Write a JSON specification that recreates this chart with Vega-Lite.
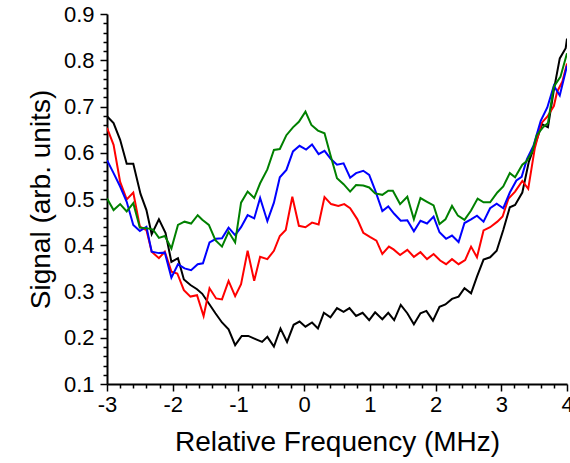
{
"$schema": "https://vega.github.io/schema/vega-lite/v6.json",
"width": 460, "height": 370,
"autosize": {"type": "none"},
"padding": {"left": 107, "top": 14, "right": 3, "bottom": 79},
"background": "white",
"config": {"view": {"stroke": null}, "font": "Liberation Sans"},
"data": {"values": [
{"s":"black","x":-3.00,"y":0.679},{"s":"black","x":-2.90,"y":0.664},{"s":"black","x":-2.80,"y":0.628},{"s":"black","x":-2.70,"y":0.576},{"s":"black","x":-2.60,"y":0.576},{"s":"black","x":-2.49,"y":0.511},{"s":"black","x":-2.40,"y":0.476},{"s":"black","x":-2.32,"y":0.424},{"s":"black","x":-2.21,"y":0.456},{"s":"black","x":-2.11,"y":0.427},{"s":"black","x":-2.02,"y":0.364},{"s":"black","x":-1.92,"y":0.372},{"s":"black","x":-1.83,"y":0.326},{"s":"black","x":-1.73,"y":0.314},{"s":"black","x":-1.63,"y":0.305},{"s":"black","x":-1.55,"y":0.295},{"s":"black","x":-1.45,"y":0.274},{"s":"black","x":-1.35,"y":0.253},{"s":"black","x":-1.25,"y":0.233},{"s":"black","x":-1.15,"y":0.218},{"s":"black","x":-1.05,"y":0.184},{"s":"black","x":-0.95,"y":0.204},{"s":"black","x":-0.85,"y":0.204},{"s":"black","x":-0.74,"y":0.197},{"s":"black","x":-0.64,"y":0.191},{"s":"black","x":-0.56,"y":0.202},{"s":"black","x":-0.46,"y":0.181},{"s":"black","x":-0.36,"y":0.220},{"s":"black","x":-0.26,"y":0.191},{"s":"black","x":-0.16,"y":0.228},{"s":"black","x":-0.07,"y":0.235},{"s":"black","x":0.02,"y":0.224},{"s":"black","x":0.12,"y":0.233},{"s":"black","x":0.21,"y":0.220},{"s":"black","x":0.30,"y":0.254},{"s":"black","x":0.40,"y":0.244},{"s":"black","x":0.50,"y":0.264},{"s":"black","x":0.60,"y":0.256},{"s":"black","x":0.69,"y":0.264},{"s":"black","x":0.79,"y":0.247},{"s":"black","x":0.89,"y":0.254},{"s":"black","x":0.99,"y":0.238},{"s":"black","x":1.08,"y":0.255},{"s":"black","x":1.19,"y":0.240},{"s":"black","x":1.28,"y":0.254},{"s":"black","x":1.37,"y":0.238},{"s":"black","x":1.47,"y":0.271},{"s":"black","x":1.57,"y":0.253},{"s":"black","x":1.67,"y":0.229},{"s":"black","x":1.77,"y":0.253},{"s":"black","x":1.86,"y":0.258},{"s":"black","x":1.96,"y":0.237},{"s":"black","x":2.06,"y":0.267},{"s":"black","x":2.15,"y":0.272},{"s":"black","x":2.25,"y":0.284},{"s":"black","x":2.35,"y":0.289},{"s":"black","x":2.44,"y":0.307},{"s":"black","x":2.54,"y":0.296},{"s":"black","x":2.63,"y":0.332},{"s":"black","x":2.73,"y":0.369},{"s":"black","x":2.83,"y":0.374},{"s":"black","x":2.93,"y":0.388},{"s":"black","x":3.03,"y":0.433},{"s":"black","x":3.13,"y":0.482},{"s":"black","x":3.21,"y":0.487},{"s":"black","x":3.32,"y":0.514},{"s":"black","x":3.42,"y":0.581},{"s":"black","x":3.52,"y":0.620},{"s":"black","x":3.62,"y":0.662},{"s":"black","x":3.71,"y":0.655},{"s":"black","x":3.80,"y":0.736},{"s":"black","x":3.89,"y":0.804},{"s":"black","x":3.98,"y":0.826},{"s":"black","x":4.00,"y":0.847},
{"s":"red","x":-3.00,"y":0.654},{"s":"red","x":-2.90,"y":0.617},{"s":"red","x":-2.80,"y":0.537},{"s":"red","x":-2.70,"y":0.499},{"s":"red","x":-2.60,"y":0.514},{"s":"red","x":-2.50,"y":0.440},{"s":"red","x":-2.40,"y":0.433},{"s":"red","x":-2.32,"y":0.386},{"s":"red","x":-2.21,"y":0.372},{"s":"red","x":-2.12,"y":0.386},{"s":"red","x":-2.02,"y":0.343},{"s":"red","x":-1.93,"y":0.339},{"s":"red","x":-1.83,"y":0.303},{"s":"red","x":-1.73,"y":0.289},{"s":"red","x":-1.63,"y":0.292},{"s":"red","x":-1.53,"y":0.247},{"s":"red","x":-1.44,"y":0.307},{"s":"red","x":-1.34,"y":0.285},{"s":"red","x":-1.25,"y":0.283},{"s":"red","x":-1.15,"y":0.323},{"s":"red","x":-1.05,"y":0.290},{"s":"red","x":-0.96,"y":0.316},{"s":"red","x":-0.86,"y":0.388},{"s":"red","x":-0.76,"y":0.323},{"s":"red","x":-0.67,"y":0.375},{"s":"red","x":-0.56,"y":0.370},{"s":"red","x":-0.46,"y":0.388},{"s":"red","x":-0.37,"y":0.420},{"s":"red","x":-0.28,"y":0.433},{"s":"red","x":-0.18,"y":0.505},{"s":"red","x":-0.08,"y":0.442},{"s":"red","x":0.02,"y":0.439},{"s":"red","x":0.12,"y":0.449},{"s":"red","x":0.22,"y":0.445},{"s":"red","x":0.31,"y":0.504},{"s":"red","x":0.41,"y":0.489},{"s":"red","x":0.52,"y":0.485},{"s":"red","x":0.61,"y":0.489},{"s":"red","x":0.70,"y":0.480},{"s":"red","x":0.81,"y":0.456},{"s":"red","x":0.90,"y":0.427},{"s":"red","x":1.00,"y":0.418},{"s":"red","x":1.10,"y":0.410},{"s":"red","x":1.19,"y":0.381},{"s":"red","x":1.29,"y":0.397},{"s":"red","x":1.36,"y":0.391},{"s":"red","x":1.46,"y":0.379},{"s":"red","x":1.57,"y":0.390},{"s":"red","x":1.67,"y":0.375},{"s":"red","x":1.77,"y":0.385},{"s":"red","x":1.87,"y":0.370},{"s":"red","x":1.97,"y":0.381},{"s":"red","x":2.07,"y":0.367},{"s":"red","x":2.16,"y":0.359},{"s":"red","x":2.25,"y":0.370},{"s":"red","x":2.35,"y":0.359},{"s":"red","x":2.45,"y":0.368},{"s":"red","x":2.54,"y":0.397},{"s":"red","x":2.63,"y":0.374},{"s":"red","x":2.73,"y":0.432},{"s":"red","x":2.83,"y":0.439},{"s":"red","x":2.94,"y":0.451},{"s":"red","x":3.02,"y":0.462},{"s":"red","x":3.11,"y":0.501},{"s":"red","x":3.21,"y":0.516},{"s":"red","x":3.32,"y":0.539},{"s":"red","x":3.41,"y":0.522},{"s":"red","x":3.51,"y":0.610},{"s":"red","x":3.61,"y":0.664},{"s":"red","x":3.70,"y":0.678},{"s":"red","x":3.80,"y":0.701},{"s":"red","x":3.85,"y":0.732},{"s":"red","x":3.93,"y":0.754},{"s":"red","x":4.00,"y":0.793},
{"s":"blue","x":-3.00,"y":0.584},{"s":"blue","x":-2.90,"y":0.556},{"s":"blue","x":-2.80,"y":0.527},{"s":"blue","x":-2.70,"y":0.494},{"s":"blue","x":-2.60,"y":0.444},{"s":"blue","x":-2.50,"y":0.431},{"s":"blue","x":-2.40,"y":0.440},{"s":"blue","x":-2.32,"y":0.386},{"s":"blue","x":-2.21,"y":0.383},{"s":"blue","x":-2.12,"y":0.384},{"s":"blue","x":-2.02,"y":0.330},{"s":"blue","x":-1.92,"y":0.359},{"s":"blue","x":-1.82,"y":0.350},{"s":"blue","x":-1.72,"y":0.346},{"s":"blue","x":-1.62,"y":0.359},{"s":"blue","x":-1.54,"y":0.361},{"s":"blue","x":-1.44,"y":0.406},{"s":"blue","x":-1.34,"y":0.414},{"s":"blue","x":-1.25,"y":0.415},{"s":"blue","x":-1.15,"y":0.438},{"s":"blue","x":-1.05,"y":0.422},{"s":"blue","x":-0.96,"y":0.439},{"s":"blue","x":-0.86,"y":0.465},{"s":"blue","x":-0.76,"y":0.458},{"s":"blue","x":-0.67,"y":0.502},{"s":"blue","x":-0.56,"y":0.452},{"s":"blue","x":-0.46,"y":0.492},{"s":"blue","x":-0.37,"y":0.547},{"s":"blue","x":-0.27,"y":0.563},{"s":"blue","x":-0.17,"y":0.603},{"s":"blue","x":-0.07,"y":0.615},{"s":"blue","x":0.03,"y":0.607},{"s":"blue","x":0.12,"y":0.618},{"s":"blue","x":0.22,"y":0.597},{"s":"blue","x":0.31,"y":0.604},{"s":"blue","x":0.41,"y":0.586},{"s":"blue","x":0.50,"y":0.574},{"s":"blue","x":0.60,"y":0.577},{"s":"blue","x":0.70,"y":0.546},{"s":"blue","x":0.79,"y":0.556},{"s":"blue","x":0.90,"y":0.561},{"s":"blue","x":0.99,"y":0.552},{"s":"blue","x":1.08,"y":0.519},{"s":"blue","x":1.19,"y":0.474},{"s":"blue","x":1.28,"y":0.484},{"s":"blue","x":1.37,"y":0.468},{"s":"blue","x":1.47,"y":0.453},{"s":"blue","x":1.57,"y":0.454},{"s":"blue","x":1.67,"y":0.430},{"s":"blue","x":1.77,"y":0.453},{"s":"blue","x":1.87,"y":0.447},{"s":"blue","x":1.97,"y":0.462},{"s":"blue","x":2.06,"y":0.428},{"s":"blue","x":2.16,"y":0.414},{"s":"blue","x":2.25,"y":0.421},{"s":"blue","x":2.35,"y":0.407},{"s":"blue","x":2.44,"y":0.448},{"s":"blue","x":2.54,"y":0.456},{"s":"blue","x":2.63,"y":0.464},{"s":"blue","x":2.73,"y":0.451},{"s":"blue","x":2.83,"y":0.480},{"s":"blue","x":2.93,"y":0.490},{"s":"blue","x":3.03,"y":0.480},{"s":"blue","x":3.13,"y":0.514},{"s":"blue","x":3.23,"y":0.540},{"s":"blue","x":3.31,"y":0.548},{"s":"blue","x":3.39,"y":0.586},{"s":"blue","x":3.49,"y":0.615},{"s":"blue","x":3.60,"y":0.669},{"s":"blue","x":3.70,"y":0.698},{"s":"blue","x":3.80,"y":0.745},{"s":"blue","x":3.89,"y":0.724},{"s":"blue","x":4.00,"y":0.788},
{"s":"green","x":-3.00,"y":0.501},{"s":"green","x":-2.90,"y":0.476},{"s":"green","x":-2.80,"y":0.489},{"s":"green","x":-2.70,"y":0.473},{"s":"green","x":-2.60,"y":0.491},{"s":"green","x":-2.50,"y":0.438},{"s":"green","x":-2.40,"y":0.437},{"s":"green","x":-2.30,"y":0.434},{"s":"green","x":-2.21,"y":0.416},{"s":"green","x":-2.12,"y":0.420},{"s":"green","x":-2.02,"y":0.393},{"s":"green","x":-1.92,"y":0.444},{"s":"green","x":-1.82,"y":0.451},{"s":"green","x":-1.72,"y":0.447},{"s":"green","x":-1.62,"y":0.465},{"s":"green","x":-1.55,"y":0.455},{"s":"green","x":-1.45,"y":0.444},{"s":"green","x":-1.35,"y":0.411},{"s":"green","x":-1.25,"y":0.397},{"s":"green","x":-1.15,"y":0.429},{"s":"green","x":-1.05,"y":0.406},{"s":"green","x":-0.96,"y":0.492},{"s":"green","x":-0.86,"y":0.516},{"s":"green","x":-0.76,"y":0.502},{"s":"green","x":-0.67,"y":0.534},{"s":"green","x":-0.56,"y":0.564},{"s":"green","x":-0.46,"y":0.606},{"s":"green","x":-0.37,"y":0.608},{"s":"green","x":-0.27,"y":0.638},{"s":"green","x":-0.17,"y":0.655},{"s":"green","x":-0.08,"y":0.667},{"s":"green","x":0.02,"y":0.689},{"s":"green","x":0.11,"y":0.660},{"s":"green","x":0.21,"y":0.648},{"s":"green","x":0.31,"y":0.642},{"s":"green","x":0.40,"y":0.595},{"s":"green","x":0.50,"y":0.545},{"s":"green","x":0.60,"y":0.532},{"s":"green","x":0.70,"y":0.516},{"s":"green","x":0.79,"y":0.530},{"s":"green","x":0.90,"y":0.529},{"s":"green","x":0.99,"y":0.525},{"s":"green","x":1.08,"y":0.512},{"s":"green","x":1.19,"y":0.509},{"s":"green","x":1.28,"y":0.518},{"s":"green","x":1.35,"y":0.518},{"s":"green","x":1.46,"y":0.489},{"s":"green","x":1.57,"y":0.505},{"s":"green","x":1.67,"y":0.456},{"s":"green","x":1.77,"y":0.502},{"s":"green","x":1.87,"y":0.494},{"s":"green","x":1.97,"y":0.486},{"s":"green","x":2.06,"y":0.446},{"s":"green","x":2.15,"y":0.456},{"s":"green","x":2.25,"y":0.485},{"s":"green","x":2.34,"y":0.464},{"s":"green","x":2.44,"y":0.455},{"s":"green","x":2.54,"y":0.475},{"s":"green","x":2.64,"y":0.501},{"s":"green","x":2.73,"y":0.493},{"s":"green","x":2.83,"y":0.493},{"s":"green","x":2.94,"y":0.514},{"s":"green","x":3.03,"y":0.527},{"s":"green","x":3.13,"y":0.556},{"s":"green","x":3.21,"y":0.547},{"s":"green","x":3.32,"y":0.574},{"s":"green","x":3.38,"y":0.581},{"s":"green","x":3.47,"y":0.602},{"s":"green","x":3.54,"y":0.638},{"s":"green","x":3.64,"y":0.656},{"s":"green","x":3.71,"y":0.664},{"s":"green","x":3.80,"y":0.743},{"s":"green","x":3.90,"y":0.764},{"s":"green","x":4.00,"y":0.815}
]},
"mark": {"type": "line", "strokeWidth": 2, "clip": true},
"encoding": {
"x": {"field": "x", "type": "quantitative",
 "scale": {"domain": [-3, 4], "nice": false, "zero": false},
 "axis": {
  "values": [-3,-2.8,-2.6,-2.4,-2.2,-2,-1.8,-1.6,-1.4,-1.2,-1,-0.8,-0.6,-0.4,-0.2,0,0.2,0.4,0.6,0.8,1,1.2,1.4,1.6,1.8,2,2.2,2.4,2.6,2.8,3,3.2,3.4,3.6,3.8,4],
  "labelExpr": "abs(datum.value - round(datum.value)) < 0.001 ? '' + round(datum.value) : ''",
  "tickSize": {"condition": {"test": "abs(datum.value - round(datum.value)) < 0.001", "value": 7}, "value": 4},
  "grid": false, "domainColor": "black", "domainWidth": 2, "tickColor": "black", "tickWidth": 1.5,
  "labelFontSize": 22, "labelColor": "black", "labelPadding": 3, "labelOverlap": false, "labelFlush": false,
  "title": "Relative Frequency (MHz)", "titleFontSize": 28, "titleFontWeight": "normal", "titleColor": "black", "titlePadding": 13
 }},
"y": {"field": "y", "type": "quantitative",
 "scale": {"domain": [0.1, 0.9], "nice": false, "zero": false},
 "axis": {
  "values": [0.1,0.12,0.14,0.16,0.18,0.2,0.22,0.24,0.26,0.28,0.3,0.32,0.34,0.36,0.38,0.4,0.42,0.44,0.46,0.48,0.5,0.52,0.54,0.56,0.58,0.6,0.62,0.64,0.66,0.68,0.7,0.72,0.74,0.76,0.78,0.8,0.82,0.84,0.86,0.88,0.9],
  "labelExpr": "abs(datum.value*10 - round(datum.value*10)) < 0.001 ? format(datum.value, '.1f') : ''",
  "tickSize": {"condition": {"test": "abs(datum.value*10 - round(datum.value*10)) < 0.001", "value": 7}, "value": 4},
  "grid": false, "domainColor": "black", "domainWidth": 2, "tickColor": "black", "tickWidth": 1.5,
  "labelFontSize": 22, "labelColor": "black", "labelPadding": 6, "labelOverlap": false, "labelFlush": false,
  "title": "Signal (arb. units)", "titleFontSize": 28, "titleFontWeight": "normal", "titleColor": "black", "titlePadding": 8
 }},
"color": {"field": "s", "type": "nominal",
 "scale": {"domain": ["black", "red", "blue", "green"], "range": ["#000000", "#ff0000", "#0000ff", "#008000"]},
 "legend": null}
}
}
